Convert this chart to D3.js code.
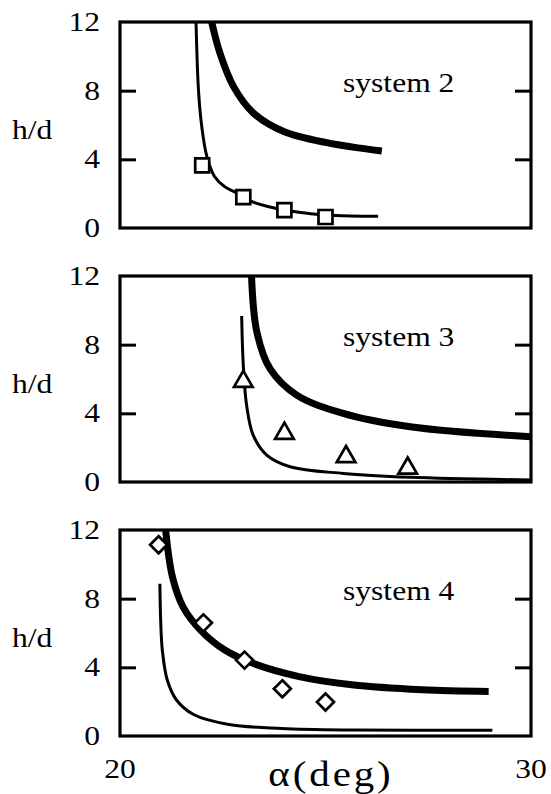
<!DOCTYPE html>
<html>
<head>
<meta charset="utf-8">
<script src="https://cdn.jsdelivr.net/npm/d3@7"></script>
<style>
  body { margin: 0; background: #fff; }
  text { fill: #000; }
</style>
</head>
<body>
<div id="chart"></div>
<script>
// values
const xTickLabels = [20, 30];
const yTickLabels = [0, 4, 8, 12];
const yInnerTicks = [4, 8];
const panelNames = ["system 2", "system 3", "system 4"];

// system 2
const sys2Points = [[22, 3.65], [23, 1.8], [24, 1.04], [25, 0.64]];
const sys2Thin = [[21.85, 12], [21.91, 8], [21.99, 5.9], [22.11, 4.2], [22.3, 3.0], [22.55, 2.4],
  [22.84, 2.05], [23.2, 1.55], [23.6, 1.25], [24, 1.05], [24.5, 0.88], [25, 0.76], [25.6, 0.7], [26.28, 0.68]];
const sys2Thick = [[22.23, 12], [22.43, 10.2], [22.76, 8.25], [23.24, 6.71], [23.97, 5.64], [25.03, 4.97], [26.37, 4.48]];

// system 3
const sys3Points = [[23, 5.85], [24, 2.83], [25.5, 1.47], [27, 0.8]];
const sys3Thin = [[22.96, 9.67], [23.0, 6.8], [23.08, 4.48], [23.24, 2.73], [23.57, 1.57], [24.14, 0.89],
  [25.43, 0.5], [27.06, 0.27], [30, 0.12]];
const sys3Thick = [[23.2, 12], [23.33, 8.74], [23.65, 6.6], [24.3, 5.06], [25.43, 4.0], [27.06, 3.22], [30, 2.64]];

// system 4
const sys4Points = [[20.94, 11.14], [22.03, 6.59], [23.03, 4.42], [23.95, 2.75], [25, 1.98]];
const sys4Thin = [[20.97, 8.87], [20.99, 6.72], [21.03, 4.99], [21.15, 3.26], [21.37, 2.11], [21.79, 1.25],
  [22.65, 0.67], [23.93, 0.44], [25.64, 0.35], [29.06, 0.33]];
const sys4Thick = [[21.11, 12], [21.28, 9.22], [21.54, 7.49], [21.97, 6.14], [22.56, 4.99], [23.25, 4.22],
  [24.36, 3.46], [25.64, 2.98], [27.35, 2.69], [28.97, 2.59]];

const panels = [
  { name: panelNames[0], points: sys2Points, thin: sys2Thin, thick: sys2Thick, marker: "square" },
  { name: panelNames[1], points: sys3Points, thin: sys3Thin, thick: sys3Thick, marker: "triangle" },
  { name: panelNames[2], points: sys4Points, thin: sys4Thin, thick: sys4Thick, marker: "diamond" }
];

const W = 551, H = 794;
const left = 120, right = 531;
const panelTops = [22, 276, 530];
const panelH = 206;
const stretch = 1.17;
const serif = "'Liberation Serif', 'Times New Roman', Times, serif";

const svg = d3.select("#chart").append("svg")
  .attr("width", W).attr("height", H);

const x = d3.scaleLinear().domain([20, 30]).range([left, right]);

const line = d3.line().curve(d3.curveCatmullRom.alpha(0.5));

// helper: serif text slightly wider than normal, like the original
function label(g, str, px, py, size, anchor, spacing) {
  const t = g.append("text")
    .attr("transform", "translate(" + px + "," + py + ") scale(" + stretch + ",1)")
    .attr("text-anchor", anchor)
    .attr("font-family", serif)
    .style("font-size", size + "px")
    .text(str);
  if (spacing) t.style("letter-spacing", spacing + "px");
  return t;
}

const markerPath = {
  square: d3.symbol().type(d3.symbolSquare).size(196),
  triangle: d3.symbol().type(d3.symbolTriangle).size(150),
  diamond: function () {
    const r = 8.5;
    return "M0," + (-r) + "L" + r + ",0L0," + r + "L" + (-r) + ",0Z";
  }
};

panels.forEach(function (p, i) {
  const top = panelTops[i];
  const y = d3.scaleLinear().domain([0, 12]).range([top + panelH, top]);
  const g = svg.append("g");

  const clipId = "clip" + i;
  svg.append("clipPath").attr("id", clipId)
    .append("rect").attr("x", left).attr("y", top).attr("width", right - left).attr("height", panelH);

  // curves
  const curves = g.append("g").attr("clip-path", "url(#" + clipId + ")");
  line.x(d => x(d[0])).y(d => y(d[1]));
  curves.append("path").attr("d", line(p.thin))
    .attr("fill", "none").attr("stroke", "#000").attr("stroke-width", 3);
  curves.append("path").attr("d", line(p.thick))
    .attr("fill", "none").attr("stroke", "#000").attr("stroke-width", 7);

  // frame
  g.append("rect")
    .attr("x", left).attr("y", top)
    .attr("width", right - left).attr("height", panelH)
    .attr("fill", "none").attr("stroke", "#000").attr("stroke-width", 3.2);

  // inward ticks on both sides
  const leftAxis = d3.axisRight(y).tickValues(yInnerTicks).tickSize(16).tickFormat("");
  const rightAxis = d3.axisLeft(y).tickValues(yInnerTicks).tickSize(16).tickFormat("");
  [g.append("g").attr("transform", "translate(" + left + ",0)").call(leftAxis),
   g.append("g").attr("transform", "translate(" + right + ",0)").call(rightAxis)].forEach(function (a) {
    a.select(".domain").remove();
    a.selectAll("line").attr("stroke", "#000").attr("stroke-width", 3);
  });

  // y tick labels
  yTickLabels.forEach(function (v) {
    label(g, v, 100, y(v) + 9, 27, "end");
  });

  label(g, "h/d", 12, y(5.2), 27, "start");
  label(g, p.name, 343, y(8) + 1, 27, "start");

  // measured points
  g.selectAll(".pt")
    .data(p.points)
    .enter().append("path")
    .attr("class", "pt")
    .attr("transform", d => "translate(" + x(d[0]) + "," + y(d[1]) + ")")
    .attr("d", markerPath[p.marker])
    .attr("fill", "#fff").attr("stroke", "#000").attr("stroke-width", 2.7);
});

// x axis labels below the last panel
const xg = svg.append("g");
xTickLabels.forEach(function (v) {
  label(xg, v, x(v), 778, 27, "middle");
});
label(xg, "\u03b1(deg)", 331, 786, 35, "middle", 2.5);
</script>
</body>
</html>
